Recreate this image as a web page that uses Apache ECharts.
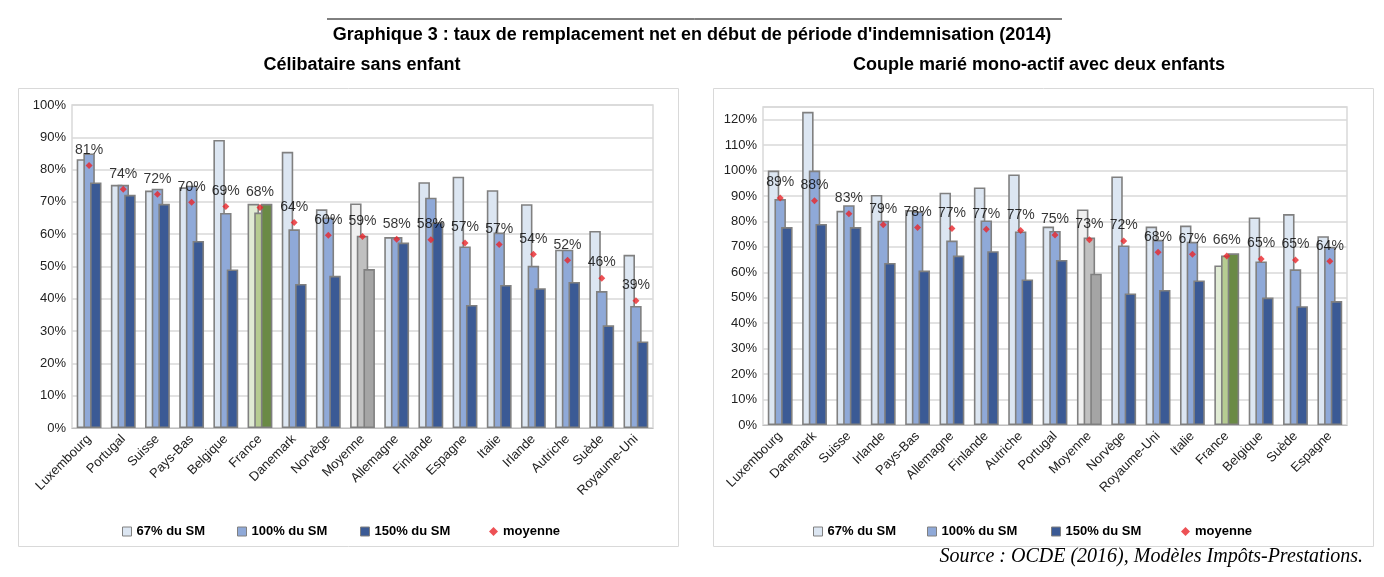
<!DOCTYPE html>
<html><head><meta charset="utf-8">
<script src="https://cdn.jsdelivr.net/npm/echarts/dist/echarts.min.js"></script>
<style>html,body{margin:0;padding:0;background:#fff}#c{width:1384px;height:577px}</style>
</head><body><div id="c"></div>
<script>
const catsLeft = ['Luxembourg','Portugal','Suisse','Pays-Bas','Belgique','France','Danemark','Norvège','Moyenne','Allemagne','Finlande','Espagne','Italie','Irlande','Autriche','Suède','Royaume-Uni'];
const left67  = [83.2,75.3,73.5,74.5,89.2,69.4,85.5,67.7,69.5,59.1,76.1,77.8,73.6,69.3,55.2,61.0,53.6];
const left100 = [85.0,75.3,74.1,75.0,66.6,66.7,61.5,65.2,59.5,59.1,71.3,56.2,60.5,50.2,55.2,42.4,37.8];
const left150 = [76.0,72.2,69.4,57.9,49.1,69.4,44.6,47.1,49.2,57.4,63.7,38.1,44.3,43.3,45.2,31.8,26.8];
const leftMean = [81.3,73.9,72.4,69.9,68.6,68.3,63.6,59.7,59.3,58.4,58.3,57.3,56.8,53.8,51.9,46.4,39.4];

const catsRight = ['Luxembourg','Danemark','Suisse','Irlande','Pays-Bas','Allemagne','Finlande','Autriche','Portugal','Moyenne','Norvège','Royaume-Uni','Italie','France','Belgique','Suède','Espagne'];
const right67  = [100,123.1,84.2,90.4,84.5,91.3,93.4,98.5,78.0,84.7,97.7,78.0,78.4,62.7,81.6,82.9,74.2];
const right100 = [88.8,100,86.4,80.3,84.0,72.5,80.4,76.1,76.3,73.7,70.6,72.8,72.0,66.6,64.3,61.2,70.0];
const right150 = [77.8,79.0,77.8,63.7,60.7,66.6,68.3,57.2,64.9,59.5,51.7,53.1,56.8,67.5,50.1,46.7,48.7];
const rightMean = [89.2,88.1,83.0,78.7,77.6,77.2,76.9,76.5,74.7,72.8,72.3,67.9,67.1,66.4,65.3,64.9,64.4];

const seriesNames = ['67% du SM','100% du SM','150% du SM','moyenne'];

const palette = {
  normal: ['#dce6f2','#8fa9d8','#3b5a95'],
  Moyenne: ['#f0f0f0','#c0c0c0','#a5a5a5'],
  France: ['#e0ebd4','#b6cc92','#6a8a45']
};
function items(vals, cats, k){
  return vals.map((v,i)=>{
    const p = palette[cats[i]] || palette.normal;
    return {value:v, itemStyle:{color:p[k]}};
  });
}
const FONT = 'Liberation Sans, Arial, sans-serif';
const NARROW = 'Liberation Sans Narrow, Arial Narrow, Liberation Sans, sans-serif';

function barSeries(idx, vals, cats, k){
  return {
    type:'bar', name:seriesNames[k], xAxisIndex:idx, yAxisIndex:idx,
    data: items(vals,cats,k), barWidth:11.5, barGap:'-42%',
    itemStyle:{color:palette.normal[k], borderColor:'#808080', borderWidth:1.6},
    animation:false
  };
}
function meanSeries(idx, vals){
  return {
    type:'scatter', name:'moyenne', xAxisIndex:idx, yAxisIndex:idx, z:10,
    data: vals, symbol:'diamond', symbolSize:7, itemStyle:{color:'#e8262a'},
    label:{show:true, position:'top', distance:5, formatter:p=>Math.round(p.value)+'%',
      color:'#000', fontFamily:FONT, fontSize:14},
    animation:false
  };
}
function xAx(idx, cats){
  return {type:'category', gridIndex:idx, data:cats,
    axisLine:{lineStyle:{color:'#bfbfbf'}}, axisTick:{show:false},
    axisLabel:{rotate:45, interval:0, fontFamily:FONT, fontSize:13, color:'#222', margin:9}};
}
function yAx(idx, max){
  return {type:'value', gridIndex:idx, min:0, max:max, interval:10,
    axisLine:{show:false}, axisTick:{show:false},
    splitLine:{lineStyle:{color:'#d9d9d9', width:1.5}},
    axisLabel:{fontFamily:FONT, fontSize:13, color:'#222', margin:6,
      formatter:v=> (v>120.5 ? '' : Math.round(v)+'%')}};
}
const legends = [];
function addLegends(xs){
  seriesNames.forEach((n,k)=>{
    legends.push({data:[n], left:xs[k], top:520, itemWidth:9, itemHeight:9, itemGap:4,
      icon: k===3 ? 'diamond' : 'rect',
      itemStyle: k===3 ? {color:'#e8262a'} : {color:palette.normal[k], borderColor:'#808080', borderWidth:1},
      textStyle:{fontFamily:FONT, fontSize:13, fontWeight:'bold', color:'#000'}, selectedMode:false});
  });
}
addLegends([117, 232, 355, 484]);
addLegends([808, 922, 1046, 1176]);

const chart = echarts.init(document.getElementById('c'), null, {renderer:'canvas'});
chart.setOption({
  animation:false,
  title:[
    {text:"Graphique 3 : taux de remplacement net en début de période d'indemnisation (2014)", left:'center', top:21,
      textStyle:{fontFamily:NARROW, fontSize:18, fontWeight:'bold', color:'#000'}},
    {text:'Célibataire sans enfant', left:357, textAlign:'center', top:51,
      textStyle:{fontFamily:NARROW, fontSize:18, fontWeight:'bold', color:'#000'}},
    {text:'Couple marié mono-actif avec deux enfants', left:1034, textAlign:'center', top:51,
      textStyle:{fontFamily:NARROW, fontSize:18, fontWeight:'bold', color:'#000'}},
    {text:'Source : OCDE (2016), Modèles Impôts-Prestations.', right:16, top:542,
      textStyle:{fontFamily:'Liberation Serif, DejaVu Serif, serif', fontSize:20, fontStyle:'italic', fontWeight:'normal', color:'#000'}}
  ],
  graphic:[
    {type:'line', shape:{x1:327,y1:19,x2:1062,y2:19}, style:{stroke:'#000', lineWidth:1}},
    {type:'rect', shape:{x:18.5,y:88.5,width:660,height:458}, style:{fill:null, stroke:'#d9d9d9', lineWidth:1}},
    {type:'rect', shape:{x:713.5,y:88.5,width:660,height:458}, style:{fill:null, stroke:'#d9d9d9', lineWidth:1}}
  ],
  legend: legends,
  grid:[
    {left:72, right:731, top:105, bottom:149, show:true, borderColor:'#d9d9d9', borderWidth:1.5, backgroundColor:'transparent'},
    {left:763, right:37, top:107, bottom:152, show:true, borderColor:'#d9d9d9', borderWidth:1.5, backgroundColor:'transparent'}
  ],
  xAxis:[xAx(0,catsLeft), xAx(1,catsRight)],
  yAxis:[yAx(0,100), yAx(1,125)],
  series:[
    barSeries(0,left67,catsLeft,0), barSeries(0,left100,catsLeft,1), barSeries(0,left150,catsLeft,2), meanSeries(0,leftMean),
    barSeries(1,right67,catsRight,0), barSeries(1,right100,catsRight,1), barSeries(1,right150,catsRight,2), meanSeries(1,rightMean)
  ]
});
</script></body></html>
